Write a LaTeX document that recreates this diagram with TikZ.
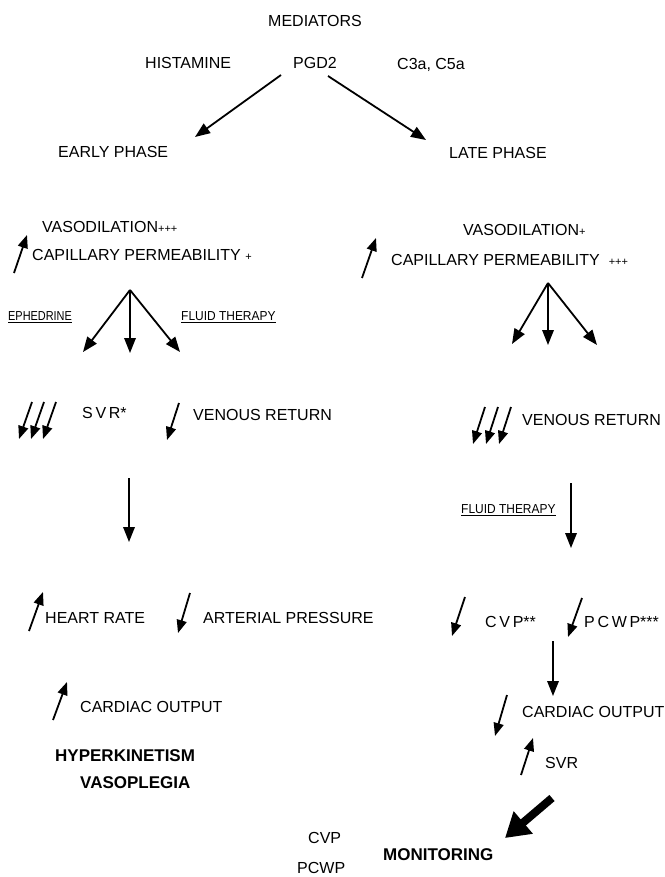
\documentclass[tikz,border=0pt]{standalone}
\usepackage{fontspec}
\usepackage{graphicx}
\setmainfont{Liberation Sans}
\usetikzlibrary{arrows.meta}
\tikzset{
  txt/.style={font=\fontsize{16}{18}\selectfont, inner sep=0pt, anchor=west},
  smalltxt/.style={font=\fontsize{13}{15}\selectfont, inner sep=0pt, anchor=west},
  boldtxt/.style={font=\fontsize{17}{19}\selectfont\bfseries, inner sep=0pt, anchor=west},
  conn/.style={line width=1.8pt, -{Triangle[length=15pt,width=11.5pt]}},
  ind/.style={line width=1.8pt, -{Triangle[length=13pt,width=10pt]}},
  bigarrow/.style={line width=8pt, -{Triangle[length=24pt,width=28pt]}}
}
\newcommand{\plsm}[1]{{\fontsize{11}{12}\selectfont #1}}
\newcommand{\narrowul}[2]{\scalebox{#1}[1]{\underline{#2}}}
\begin{document}
\begin{tikzpicture}[x=1pt,y=-1pt]
\useasboundingbox (0,0) rectangle (664,877);
% top
\node[txt] (med) at (268,21) {MEDIATORS};
\node[txt] (hist) at (145,63) {HISTAMINE};
\node[txt] (pgd) at (293,63) {PGD2};
\node[txt] (c3a) at (397,65) {C3a, C5a};
\node[txt] (early) at (58,152) {EARLY PHASE};
\node[txt] (late) at (449,153) {LATE PHASE};
\coordinate (pgdL) at (281,75);
\coordinate (pgdR) at (328,76);
\coordinate (earlyT) at (195,137);
\coordinate (lateT) at (426,140);
\draw[conn] (pgdL) -- (earlyT);
\draw[conn] (pgdR) -- (lateT);
% left column
\node[txt] (vasoL) at (42,227) {VASODILATION\plsm{+++}};
\node[txt] (capL) at (32,255) {CAPILLARY PERMEABILITY \plsm{+}};
\coordinate (upLa) at (14,273); \coordinate (upLb) at (27,235);
\draw[ind] (upLa) -- (upLb);
\node[smalltxt] (eph) at (8,317) {\narrowul{0.84}{EPHEDRINE}};
\node[smalltxt] (fluidL) at (181,317) {\narrowul{0.92}{FLUID THERAPY}};
\coordinate (forkL) at (130,290);
\coordinate (forkL1) at (83,352); \coordinate (forkL2) at (130,353); \coordinate (forkL3) at (180,352);
\draw[conn] (forkL) -- (forkL1);
\draw[conn] (forkL) -- (forkL2);
\draw[conn] (forkL) -- (forkL3);
% triple arrows left
\foreach \i/\dx in {1/0,2/12,3/24} {
  \coordinate (tla\i) at ({32+\dx},402); \coordinate (tlb\i) at ({19+\dx},439);
  \draw[ind] (tla\i) -- (tlb\i);
}
\node[txt] (svrs) at (82,413) {S\,V\,R*};
\coordinate (vrLa) at (179,403); \coordinate (vrLb) at (167,440);
\draw[ind] (vrLa) -- (vrLb);
\node[txt] (vrL) at (193,415) {VENOUS RETURN};
\coordinate (vLa) at (129,478); \coordinate (vLb) at (129,542);
\draw[conn] (vLa) -- (vLb);
\coordinate (hrA) at (29,631); \coordinate (hrB) at (43,592);
\draw[ind] (hrA) -- (hrB);
\node[txt] (hr) at (45,618) {HEART RATE};
\coordinate (apA) at (190,593); \coordinate (apB) at (178,633);
\draw[ind] (apA) -- (apB);
\node[txt] (ap) at (203,618) {ARTERIAL PRESSURE};
\coordinate (coA) at (53,720); \coordinate (coB) at (67,682);
\draw[ind] (coA) -- (coB);
\node[txt] (coL) at (80,707) {CARDIAC OUTPUT};
\node[boldtxt] (hyper) at (55,756) {HYPERKINETISM};
\node[boldtxt] (vasop) at (80,783) {VASOPLEGIA};
% right column
\node[txt] (vasoR) at (463,230) {VASODILATION\plsm{+}};
\node[txt] (capR) at (391,260) {CAPILLARY PERMEABILITY\ \ \plsm{+++}};
\coordinate (upRa) at (362,278); \coordinate (upRb) at (376,238);
\draw[ind] (upRa) -- (upRb);
\coordinate (forkR) at (548,283);
\coordinate (forkR1) at (512,344); \coordinate (forkR2) at (548,345); \coordinate (forkR3) at (597,345);
\draw[conn] (forkR) -- (forkR1);
\draw[conn] (forkR) -- (forkR2);
\draw[conn] (forkR) -- (forkR3);
\foreach \i/\dx in {1/0,2/13,3/26} {
  \coordinate (tra\i) at ({485+\dx},407); \coordinate (trb\i) at ({473+\dx},444);
  \draw[ind] (tra\i) -- (trb\i);
}
\node[txt] (vrR) at (522,420) {VENOUS RETURN};
\node[smalltxt] (fluidR) at (461,510) {\narrowul{0.92}{FLUID THERAPY}};
\coordinate (vRa) at (571,483); \coordinate (vRb) at (571,548);
\draw[conn] (vRa) -- (vRb);
\coordinate (cvpA) at (465,597); \coordinate (cvpB) at (452,636);
\draw[ind] (cvpA) -- (cvpB);
\node[txt] (cvpss) at (485,622) {C\,V\,P**};
\coordinate (pcA) at (582,598); \coordinate (pcB) at (568,637);
\draw[ind] (pcA) -- (pcB);
\node[txt] (pcwpss) at (584,622) {P\,C\,W\,P***};
\coordinate (v2a) at (553,641); \coordinate (v2b) at (553,696);
\draw[conn] (v2a) -- (v2b);
\coordinate (coRa) at (507,695); \coordinate (coRb) at (495,736);
\draw[ind] (coRa) -- (coRb);
\node[txt] (coR) at (522,712) {CARDIAC OUTPUT};
\coordinate (svrA) at (521,775); \coordinate (svrB) at (533,738);
\draw[ind] (svrA) -- (svrB);
\node[txt] (svr) at (545,763) {SVR};
\coordinate (bigA) at (552,798); \coordinate (bigB) at (505,838);
\draw[bigarrow] (bigA) -- (bigB);
\node[txt] (cvp) at (308,838) {CVP};
\node[boldtxt] (mon) at (383,855) {MONITORING};
\node[txt] (pcwp) at (297,868) {PCWP};
\end{tikzpicture}
\end{document}
